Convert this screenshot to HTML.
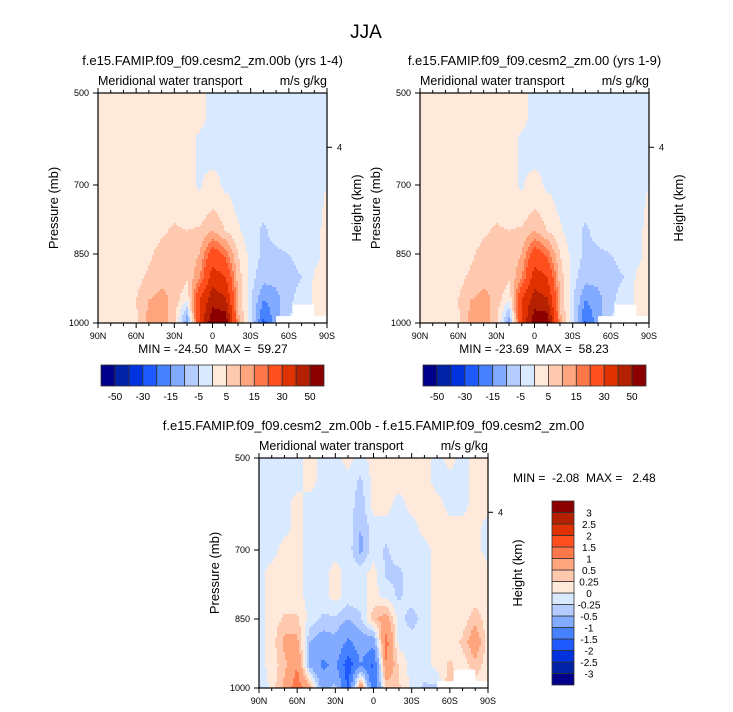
<!DOCTYPE html>
<html><head><meta charset="utf-8">
<style>
body{margin:0;background:#fff;}
svg{display:block;font-family:"Liberation Sans",sans-serif;}
text{white-space:pre;}
</style></head>
<body>
<svg id="fig" width="733" height="712" viewBox="0 0 733 712">
<text x="366" y="38" font-size="19" text-anchor="middle">JJA</text>
</svg>
<script>
// ---- data ----
const lats = [90,80,70,60,50,40,30,20,10,0,-10,-20,-30,-40,-50,-60,-70,-80,-90];
const plevs = [500,550,600,650,700,750,800,850,900,950,1000];
const levelsTop = [-50,-40,-30,-20,-15,-10,-5,0,5,10,15,20,30,40,50];
const levelsDiff = [-3,-2.5,-2,-1.5,-1,-0.5,-0.25,0,0.25,0.5,1,1.5,2,2.5,3];
const topTickLabels = ["-50","-30","-15","-5","5","15","30","50"];
const diffTickLabels = ["-3","-2.5","-2","-1.5","-1","-0.5","-0.25","0","0.25","0.5","1","1.5","2","2.5","3"];
const xTickLabels = ["90N","60N","30N","0","30S","60S","90S"];
const yTickLabels = [500,700,850,1000];
const fieldA = [
[1,1,1,1,1,1,1,1,1,-1,-1,-1,-1,-1,-1,-1,-1,-1,-1],
[1,1,1,1,1,1,1,1,1,-1,-1,-1,-1,-1,-1,-1,-1,-1,-1],
[1,1,1,1,1,1,1,1,-0.5,-1,-1,-1,-1,-1,-1,-1,-1,-1,-1],
[1,1,1,1,1,1,1,1,-0.5,-1,-1,-1,-1,-1,-1,-1,-1,-1,-1],
[1,1,1,1,1,1,1,1,-0.5,2,-1,-1,-1,-1,-1,-1,-1,-1,0],
[1,1,1,1,1,2,3,2,1,5,2,-1,-2,-3,-2,-1,-1,-1,0.5],
[1,1,1,1,2,4,6,5,6,10,5,1,-3,-6,-3,-2,-2,-1,1],
[1,1,1,2,4,7,8,7,10,25,18,5,-2,-6,-6,-5,-3,-1,1],
[1,1,1,3,6,8,10,6,14,35,30,8,-3,-8,-8,-7,-5,0.5,1],
[1,1,1,5,10,12,8,0,30,46,42,10,-4,-15,-12,-6,-3,1,1],
[1,1,1,4,12,13,6,-15,32,58,59,12,-4,-22,-12,-5,-3,1,1]];
const fieldB = [
[1,1,1,1,1,1,1,1,1,-1,-1,-1,-1,-1,-1,-1,-1,-1,-1],
[1,1,1,1,1,1,1,1,1,-1,-1,-1,-1,-1,-1,-1,-1,-1,-1],
[1,1,1,1,1,1,1,1,-0.5,-1,-1,-1,-1,-1,-1,-1,-1,-1,-1],
[1,1,1,1,1,1,1,1,-0.5,-1,-1,-1,-1,-1,-1,-1,-1,-1,-1],
[1,1,1,1,1,1,1,1,-0.5,2,-1,-1,-1,-1,-1,-1,-1,-1,0],
[1,1,1,1,1,2,3,2,1,5,2,-1,-2,-3,-2,-1,-1,-1,0.5],
[1,1,1,1,2,4,6,5,6,10,5,1,-3,-6,-3,-2,-2,-1,1],
[1,1,1,2,4,7,8,7,10,25,18,5,-2,-6,-6,-5,-3,-1,1],
[1,1,1,3,6,8,10,6,14,35,30,8,-3,-8,-8,-7,-5,0.5,1],
[1,1,1,5,10,12,8,0,30,45,41,10,-4,-15,-12,-6,-3,1,1],
[1,1,1,4,12,13,6,-14,31,57,58,12,-4,-21,-12,-5,-3,1,1]];
const fieldDiff = [
[-0.1,-0.1,-0.1,-0.1,0.1,-0.1,-0.1,0.1,-0.1,0.1,0.1,0.1,0.1,0.1,-0.1,0.1,-0.1,0.1,0.1],
[-0.1,-0.1,-0.1,-0.1,0.1,-0.1,-0.1,-0.1,-0.3,0.1,0.1,0.1,0.1,0.1,-0.1,-0.1,-0.1,0.1,0.1],
[-0.1,-0.1,-0.1,0.1,-0.1,-0.1,-0.1,-0.1,-0.4,0.1,0.1,-0.1,0.1,0.1,0.1,-0.1,-0.1,0.1,0.1],
[-0.1,-0.1,-0.1,0.1,-0.1,-0.1,-0.1,-0.1,-0.5,-0.1,-0.1,-0.1,-0.1,0.1,0.1,0.1,0.1,0.1,-0.1],
[-0.1,-0.1,0.1,0.1,-0.1,-0.1,-0.1,-0.1,-0.6,-0.1,-0.3,-0.1,-0.1,-0.1,0.1,0.1,0.1,0.1,-0.1],
[-0.1,0.1,0.1,0.1,-0.1,-0.1,0.1,-0.1,-0.1,0.1,-0.3,-0.3,-0.1,-0.1,0.1,0.1,0.1,0.1,0.1],
[-0.1,0.1,0.1,0.1,-0.1,-0.1,0.1,-0.1,-0.1,0.1,-0.1,-0.3,-0.1,-0.1,0.1,0.1,0.1,0.1,0.1],
[-0.1,0.1,0.3,0.3,-0.1,-0.3,-0.3,-0.5,-0.3,0.4,0.7,-0.1,-0.4,-0.1,0.1,0.1,0.1,0.4,0.1],
[-0.1,0.1,0.6,0.6,-0.5,-0.7,-0.6,-1.1,-0.7,-0.8,1.2,-0.1,-0.1,-0.1,0.1,0.1,0.3,0.8,0.1],
[-0.1,0.1,0.4,1.0,-0.6,-1.1,-0.9,-1.8,-1.0,-1.6,1.0,0.2,-0.1,-0.1,0.1,0.3,0.1,0.4,0.1],
[-0.3,0.1,0.6,1.3,0.6,-0.7,-0.4,-1.6,1.0,-1.5,0.3,0.3,-0.1,-0.3,-0.3,0.5,0.1,0.1,0.1]];
const colors = ["#00008a","#0022a6","#0033dd","#1e5aff","#4682ff","#82aaff","#b4ccff","#d9e9ff",
"#ffe9da","#ffc9b0","#ffa67f","#ff784c","#ff4f1e","#e03200","#b42000","#8a0000"];

const NS="http://www.w3.org/2000/svg";
const svg=document.getElementById('fig');
function mk(tag,attrs,parent){const e=document.createElementNS(NS,tag);for(const k in attrs)e.setAttribute(k,attrs[k]);(parent||svg).appendChild(e);return e;}
function txt(x,y,s,size,anchor,parent){const t=mk('text',{x:x,y:y,'font-size':size,'text-anchor':anchor||'middle'},parent);t.textContent=s;return t;}
function colorFor(v,levels){let i=0;while(i<levels.length&&v>=levels[i])i++;return colors[i];}
function sample(field,lat,p){
  let fx=(90-lat)/10, fy=(p-500)/50;
  let i0=Math.max(0,Math.min(Math.floor(fx),17)), j0=Math.max(0,Math.min(Math.floor(fy),9));
  let tx=fx-i0, ty=fy-j0;
  const a=field[j0][i0],b=field[j0][i0+1],c=field[j0+1][i0],d=field[j0+1][i0+1];
  return (a*(1-tx)+b*tx)*(1-ty)+(c*(1-tx)+d*tx)*ty;
}
function panel(x0,y0,w,h,field,levels,name,title){
  const g=mk('g',{});
  
  
  const xs=lat=>x0+(90-lat)/180*w, ys=p=>y0+(p-500)/500*h;
  const dx=2, dy=2;
  for(let py=0;py<h;py+=dy){
    const p=500+(py+dy/2)/h*500;
    let runStart=0, runCol=null;
    for(let px=0;px<w+dx;px+=dx){
      let col=null;
      if(px<w){const lat=90-Math.min(px+dx/2,w)/w*180;col=colorFor(sample(field,lat,p),levels);}
      if(col!==runCol){
        if(runCol){const r=mk('rect',{x:x0+runStart,y:y0+py,width:Math.min(px,w)-runStart+0.3,height:Math.min(dy,h-py)+0.3,fill:runCol},g);
          
          }
        runStart=px;runCol=col;
      }
    }
  }
  const m1=mk('rect',{x:xs(-50),y:ys(985),width:xs(-90)-xs(-50),height:ys(1000)-ys(985),fill:'#fff'},g);
  
  
  const m2=mk('rect',{x:xs(-63),y:ys(960),width:xs(-80)-xs(-63),height:ys(1000)-ys(960),fill:'#fff'},g);
  
  
  mk('rect',{x:x0,y:y0,width:w,height:h,fill:'none',stroke:'#000','stroke-width':1.2},g);
  for(let lat=90;lat>=-90;lat-=10){
    const len=(lat%30===0)?5:3, X=xs(lat);
    mk('line',{x1:X,y1:y0+h,x2:X,y2:y0+h+len,stroke:'#000','stroke-width':1},g);
    mk('line',{x1:X,y1:y0,x2:X,y2:y0-len,stroke:'#000','stroke-width':1},g);
  }
  xTickLabels.forEach((s,i)=>{const t=txt(xs(90-i*30),y0+h+16,s,9,'middle',g);
    
    });
  yTickLabels.forEach(p=>{const Y=ys(p);
    mk('line',{x1:x0-5,y1:Y,x2:x0,y2:Y,stroke:'#000'},g);
    const t=txt(x0-9,Y+3,String(p),9,'end',g);
    
    });
  const Y4=ys(618);
  mk('line',{x1:x0+w,y1:Y4,x2:x0+w+5,y2:Y4,stroke:'#000'},g);
  txt(x0+w+10,Y4+3,'4',9,'start',g);
  const yl=txt(0,0,'Pressure (mb)',13,'middle',g);
  yl.setAttribute('transform',`translate(${x0-40},${y0+h/2}) rotate(-90)`);
  
  
  const hl=txt(0,0,'Height (km)',13,'middle',g);
  hl.setAttribute('transform',`translate(${x0+w+34},${y0+h/2}) rotate(-90)`);
  
  
  txt(x0,y0-8,'Meridional water transport',12.5,'start',g);
  txt(x0+w,y0-8,'m/s g/kg',12.5,'end',g);
  const tt=txt(x0+w/2,y0-28,title,13,'middle',g);
  
  
}
function hbar(x0,y0,w,h,name){
  const g=mk('g',{});
  
  
  const bw=w/colors.length;
  colors.forEach((c,i)=>{const r=mk('rect',{x:x0+i*bw,y:y0,width:bw,height:h,fill:c,stroke:'#333','stroke-width':0.8},g);
    
    });
  topTickLabels.forEach((s,i)=>{const t=txt(x0+(1+2*i)*bw,y0+h+14,s,10,'middle',g);
    
    });
}
function vbar(x0,y0,w,h,name){
  const g=mk('g',{});
  
  
  const bh=h/colors.length;
  colors.forEach((c,i)=>{const r=mk('rect',{x:x0,y:y0+h-(i+1)*bh,width:w,height:bh,fill:c,stroke:'#333','stroke-width':0.8},g);
    
    });
  diffTickLabels.forEach((s,i)=>{const t=txt(x0+w+15,y0+h-(i+1)*bh+4,s,10,'middle',g);
    
    });
}
panel(98,93,229,230,fieldA,levelsTop,'panel-yrs-1-4','f.e15.FAMIP.f09_f09.cesm2_zm.00b (yrs 1-4)');
panel(420,93,229,230,fieldB,levelsTop,'panel-yrs-1-9','f.e15.FAMIP.f09_f09.cesm2_zm.00 (yrs 1-9)');
panel(259,458,229,230,fieldDiff,levelsDiff,'panel-difference','f.e15.FAMIP.f09_f09.cesm2_zm.00b - f.e15.FAMIP.f09_f09.cesm2_zm.00');
txt(213,353,'MIN = -24.50  MAX =  59.27',12,'middle');
txt(534,353,'MIN = -23.69  MAX =  58.23',12,'middle');
txt(513,482,'MIN =  -2.08  MAX =   2.48',12,'start');
hbar(101,365,223,21,'colorbar-top-left');
hbar(423,365,223,21,'colorbar-top-right');
vbar(552,501,22,184,'colorbar-difference');
</script>
</body></html>
